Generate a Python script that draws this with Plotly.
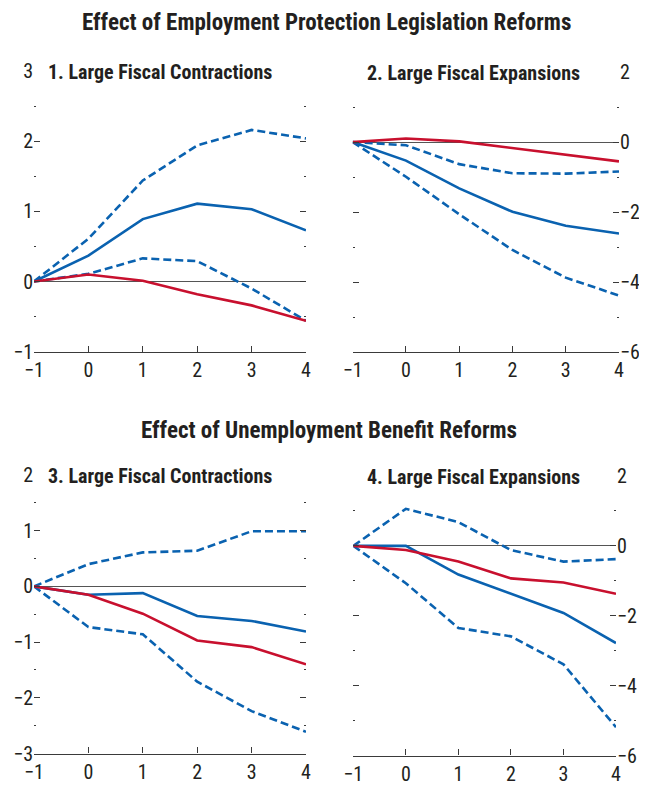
import plotly.graph_objects as go

OFF = 8  # browser default body margin
PW, PH = 647, 785
W, H = PW - OFF, PH - OFF

x_vals = [-1, 0, 1, 2, 3, 4]

# Panel 1: EPL reforms, large fiscal contractions
p1_upper = [0, 0.61, 1.44, 1.94, 2.16, 2.04]
p1_mid = [0, 0.37, 0.89, 1.11, 1.03, 0.73]
p1_lower = [0, 0.11, 0.33, 0.29, -0.10, -0.56]
p1_red = [0, 0.10, 0.01, -0.18, -0.34, -0.56]

# Panel 2: EPL reforms, large fiscal expansions
p2_upper = [0, -0.09, -0.63, -0.89, -0.90, -0.84]
p2_mid = [0, -0.53, -1.32, -1.99, -2.39, -2.61]
p2_lower = [0, -0.99, -2.06, -3.08, -3.87, -4.38]
p2_red = [0, 0.10, 0.02, -0.17, -0.34, -0.55]

# Panel 3: UB reforms, large fiscal contractions
p3_upper = [0, 0.40, 0.61, 0.64, 0.99, 0.99]
p3_mid = [0, -0.15, -0.12, -0.53, -0.62, -0.81]
p3_lower = [0, -0.73, -0.86, -1.71, -2.24, -2.61]
p3_red = [0, -0.15, -0.49, -0.97, -1.09, -1.40]

# Panel 4: UB reforms, large fiscal expansions
p4_upper = [0, 1.06, 0.68, -0.12, -0.45, -0.38]
p4_mid = [0, 0.0, -0.82, -1.37, -1.92, -2.78]
p4_lower = [0, -1.07, -2.35, -2.59, -3.39, -5.19]
p4_red = [0, -0.12, -0.45, -0.93, -1.05, -1.37]

titles = ["Effect of Employment Protection Legislation Reforms",
          "Effect of Unemployment Benefit Reforms"]
panel_titles = ["1. Large Fiscal Contractions", "2. Large Fiscal Expansions",
                "3. Large Fiscal Contractions", "4. Large Fiscal Expansions"]

BLUE = "#0A62B0"
RED = "#C8102E"
AX = "#3a3a3a"
FONT = "Liberation Sans Narrow, Arial Narrow, Roboto Condensed, Liberation Sans, sans-serif"


def fx(px):
    return (px - OFF) / W


def fy(py):
    return 1 - (py - OFF) / H


panels = [
    dict(data=(p1_upper, p1_mid, p1_lower, p1_red), px=(34, 306), py=(71, 351.7),
         yr=(-1, 3), dtick=1, minor=0.5, side="left"),
    dict(data=(p2_upper, p2_mid, p2_lower, p2_red), px=(352.7, 619), py=(72, 352.3),
         yr=(-6, 2), dtick=2, minor=1, side="right"),
    dict(data=(p3_upper, p3_mid, p3_lower, p3_red), px=(34, 306), py=(475, 753.5),
         yr=(-3, 2), dtick=1, minor=0.5, side="left"),
    dict(data=(p4_upper, p4_mid, p4_lower, p4_red), px=(353.3, 616), py=(476, 755.5),
         yr=(-6, 2), dtick=2, minor=1, side="right"),
]

fig = go.Figure()
layout = dict(width=W, height=H, margin=dict(l=0, r=0, t=0, b=0, autoexpand=False),
              paper_bgcolor="white", plot_bgcolor="white", showlegend=False,
              font=dict(family=FONT, color="#231f20", size=20))

annotations = []
for i, p in enumerate(panels):
    k = "" if i == 0 else str(i + 1)
    xa, ya = "x" + k, "y" + k
    up, mid, lo, red = p["data"]
    for ys, col, dash in [(up, BLUE, "8px,4px"), (lo, BLUE, "8px,4px"),
                          (mid, BLUE, "solid"), (red, RED, "solid")]:
        fig.add_trace(go.Scatter(x=x_vals, y=ys, mode="lines", xaxis=xa, yaxis=ya,
                                 line=dict(color=col, width=2.6, dash=dash),
                                 hoverinfo="skip", cliponaxis=False))
    layout["xaxis" + k] = dict(
        domain=[fx(p["px"][0]), fx(p["px"][1])], anchor=ya, range=[-1, 4],
        dtick=1, tick0=-1, ticks="inside", ticklen=6, tickcolor=AX, tickwidth=1,
        showline=True, linecolor=AX, linewidth=1.2, showgrid=False, zeroline=False,
        tickfont=dict(size=20), fixedrange=True, automargin=False)
    layout["yaxis" + k] = dict(
        domain=[fy(p["py"][1]), fy(p["py"][0])], anchor=xa, range=list(p["yr"]),
        dtick=p["dtick"], tick0=0, ticks="inside", ticklen=6, tickcolor=AX, tickwidth=1,
        side=p["side"], mirror="ticks", showline=False, showgrid=False,
        zeroline=True, zerolinecolor="#555555", zerolinewidth=1.2,
        minor=dict(ticks="inside", ticklen=2, tickcolor=AX, dtick=p["minor"], tick0=0,
                   showgrid=False),
        tickfont=dict(size=20), fixedrange=True, automargin=False)
    annotations.append(dict(
        text="<b>" + panel_titles[i] + "</b>", xref="paper", yref="paper",
        x=fx(p["px"][0] + 12), y=fy(p["py"][0] + 1),
        xanchor="left", yanchor="middle", showarrow=False,
        font=dict(size=20, family=FONT, color="#231f20")))

annotations.append(dict(text="<b>" + titles[0] + "</b>", xref="paper", yref="paper",
                        x=fx(326), y=fy(22), xanchor="center", yanchor="middle",
                        showarrow=False, font=dict(size=23, family=FONT, color="#231f20")))
annotations.append(dict(text="<b>" + titles[1] + "</b>", xref="paper", yref="paper",
                        x=fx(329), y=fy(430), xanchor="center", yanchor="middle",
                        showarrow=False, font=dict(size=23, family=FONT, color="#231f20")))
layout["annotations"] = annotations
fig.update_layout(**layout)
fig.write_html("out.html")
